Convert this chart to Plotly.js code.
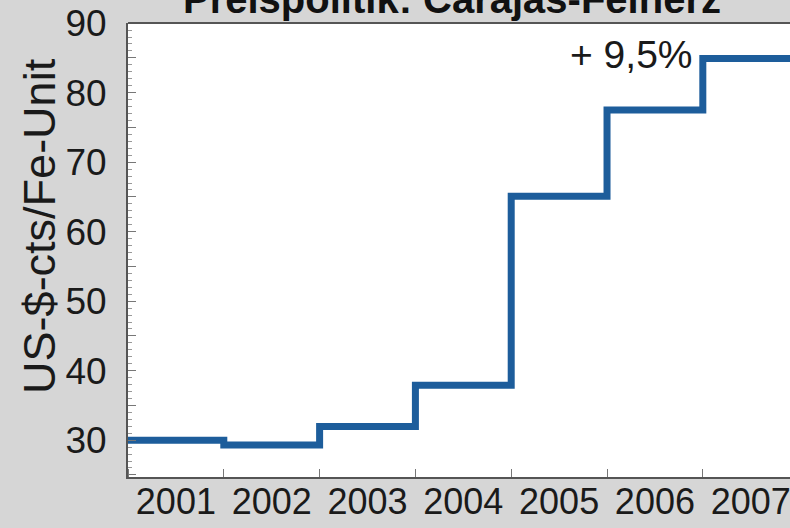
<!DOCTYPE html>
<html>
<head>
<meta charset="utf-8">
<script src="https://cdn.plot.ly/plotly-3.0.1.min.js"></script>
<style>html,body{margin:0;padding:0;background:#d6d6d6;}</style>
</head>
<body>
<div id="chart" style="width:790px;height:528px;"></div>
<script>
const years = [2001, 2002, 2003, 2004, 2005, 2006, 2007];
const prices = [30.0, 29.3, 31.95, 37.9, 65.1, 77.5, 84.9];
const yTickVals = [25, 30, 35, 40, 45, 50, 55, 60, 65, 70, 75, 80, 85, 90];
const yTickText = ['', '30', '', '40', '', '50', '', '60', '', '70', '', '80', '', '90'];
const titleText = 'Preispolitik: Carajás-Feinerz';
const yTitle = 'US-$-cts/Fe-Unit';
const lastChange = '+ 9,5%';

// step boundaries: each year's price holds from year-0.5 to year+0.5
const stepX = years.map(y => y - 0.5).concat([years[years.length - 1] + 0.5]);
const stepY = prices.concat([prices[prices.length - 1]]);

const font = "'Liberation Sans', Arial, sans-serif";

const trace = {
  x: stepX, y: stepY, type: 'scatter', mode: 'lines',
  line: {shape: 'hv', color: '#1d5d9b', width: 7},
  hoverinfo: 'skip'
};

const layout = {
  width: 790, height: 528,
  margin: {l: 128, r: 0, t: 23, b: 51},
  paper_bgcolor: '#d6d6d6', plot_bgcolor: '#ffffff',
  showlegend: false,
  font: {family: font, color: '#1a1a1a'},
  xaxis: {
    range: [2000.5, 2007.41], showgrid: false, zeroline: false,
    tickmode: 'array', tickvals: years, ticktext: years.map(String),
    ticks: '', tickfont: {size: 36, family: font, color: '#1a1a1a'},
    ticklabelstandoff: -8, ticklabeloverflow: 'allow',
    showline: true, linecolor: '#555', linewidth: 2,
    minor: {tick0: 2000.5, dtick: 1, ticks: 'inside', ticklen: 8, tickcolor: '#777', tickwidth: 1, showgrid: false}
  },
  yaxis: {
    range: [24.7, 90.02], showgrid: false, zeroline: false,
    tickmode: 'array', tickvals: yTickVals, ticktext: yTickText,
    ticks: 'inside', ticklen: 8, tickcolor: '#777', tickwidth: 1,
    tickfont: {size: 37, family: font, color: '#1a1a1a'},
    ticklabelstandoff: 12, ticklabeloverflow: 'allow',
    showline: true, linecolor: '#555', linewidth: 2,
    minor: {dtick: 1, ticks: 'inside', ticklen: 4, tickcolor: '#999', tickwidth: 1, showgrid: false}
  },
  shapes: [{type: 'line', xref: 'paper', yref: 'paper', x0: 0, x1: 1, y0: 1, y1: 1, line: {color: '#555', width: 2}}],
  annotations: [{
    text: '<b>' + titleText + '</b>', xref: 'paper', yref: 'paper', x: 0.489, y: 1.0,
    xanchor: 'center', yanchor: 'bottom', showarrow: false,
    font: {size: 40, family: font, color: '#111'}
  }, {
    x: years[years.length - 1] - 0.5, y: prices[prices.length - 1], xref: 'x', yref: 'y',
    text: lastChange, showarrow: false, xanchor: 'right', yanchor: 'middle', xshift: -8, yshift: 4,
    font: {size: 39, family: font, color: '#1a1a1a'}
  }, {
    text: yTitle, xref: 'paper', yref: 'paper', x: -0.133, y: 0.553, textangle: -90,
    xanchor: 'center', yanchor: 'middle', showarrow: false,
    font: {size: 45, family: font, color: '#1a1a1a'}
  }]
};

Plotly.newPlot('chart', [trace], layout, {displayModeBar: false, staticPlot: true});
</script>
</body>
</html>
